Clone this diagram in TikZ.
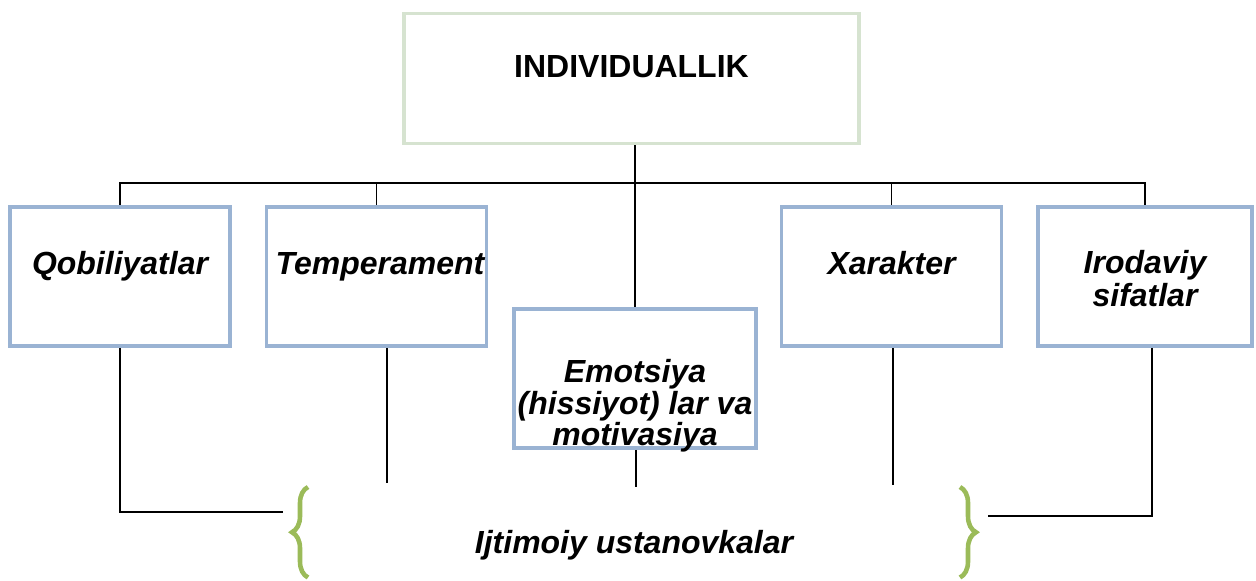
\documentclass[tikz,border=0pt]{standalone}
\usepackage{fontspec}
\setmainfont{Liberation Sans}
\usetikzlibrary{calc,positioning,decorations.pathreplacing}

\definecolor{boxblue}{HTML}{9AB3D3}
\definecolor{topgreen}{HTML}{D6E3D0}
\definecolor{bracegreen}{HTML}{9BBB59}

\tikzset{
  topbox/.style={draw=topgreen, line width=1.9pt, minimum width=9.1cm, minimum height=2.6cm},
  midbox/.style={draw=boxblue, line width=2.1pt, minimum height=2.78cm},
  boxlabel/.style={font=\fontsize{18.2}{18.8}\selectfont\bfseries\itshape, align=center, inner sep=0pt},
  link/.style={line width=0.85pt},
  bracket/.style={draw=bracegreen, line width=2.6pt, decorate, decoration={brace, amplitude=0.32cm}}
}

\begin{document}
\begin{tikzpicture}
        \useasboundingbox (0,0) rectangle (25.12,11.6);

        % Top block
        \node[topbox] (top) at (12.63,10.03) {};
        \node[boxlabel, font=\fontsize{18.2}{18.8}\selectfont\bfseries] (toptxt) at ([yshift=0.23cm]top.center) {INDIVIDUALLIK};

        % Blocks of the second row
        \node[midbox, minimum width=4.4cm] (qob) at (2.40,6.07) {};
        \node[midbox, minimum width=4.4cm] (temp) at (7.53,6.07) {};
        \node[midbox, minimum width=4.85cm] (emo) at (12.70,4.03) {};
        \node[midbox, minimum width=4.4cm] (xar) at (17.83,6.07) {};
        \node[midbox, minimum width=4.28cm] (irod) at (22.90,6.07) {};

        % Labels of the blocks
        \node[boxlabel, anchor=base] (qobtxt) at ([yshift=0.03cm]qob.center) {Qobiliyatlar};
        \node[boxlabel, anchor=base] (temptxt) at ([xshift=0.07cm,yshift=0.03cm]temp.center) {Temperament};
        \node[boxlabel, font=\fontsize{18.2}{16.5}\selectfont\bfseries\itshape] (emotxt) at ([yshift=-0.55cm]emo.center) {Emotsiya\\(hissiyot) lar va\\motivasiya};
        \node[boxlabel, anchor=base] (xartxt) at ([yshift=0.03cm]xar.center) {Xarakter};
        \node[boxlabel] (irodtxt) at ([yshift=-0.04cm]irod.center) {Irodaviy\\sifatlar};

        % Connections from the top block
        \draw[link] (top.south -| emo.north) -- (emo.north);
        \draw[link] (qob.north) -- ++(0,0.44) -| (irod.north);
        \draw[link] (temp.north) -- ++(0,0.44);
        \draw[link] (xar.north) -- ++(0,0.44);

        % Free ends below the blocks
        \coordinate (ljoin) at (5.66,1.36);
        \coordinate (rjoin) at (19.76,1.28);
        \coordinate (tempend) at (7.74,1.94);
        \coordinate (emoend) at (12.72,1.86);
        \coordinate (xarend) at (17.86,1.90);

        \draw[link] (qob.south) |- (ljoin);
        \draw[link] ([xshift=0.14cm]irod.south) |- (rjoin);
        \draw[link] (tempend |- temp.south) -- (tempend);
        \draw[link] (emoend |- emo.south) -- (emoend);
        \draw[link] (xarend |- xar.south) -- (xarend);

        % Braces round the bottom label
        \draw[bracket] (6.16,0.05) -- (6.16,1.86);
        \draw[bracket] (19.2,1.86) -- (19.2,0.05);
        \node[boxlabel, anchor=base] (ijt) at (12.68,0.54) {Ijtimoiy ustanovkalar};
    \end{tikzpicture}
\end{document}
